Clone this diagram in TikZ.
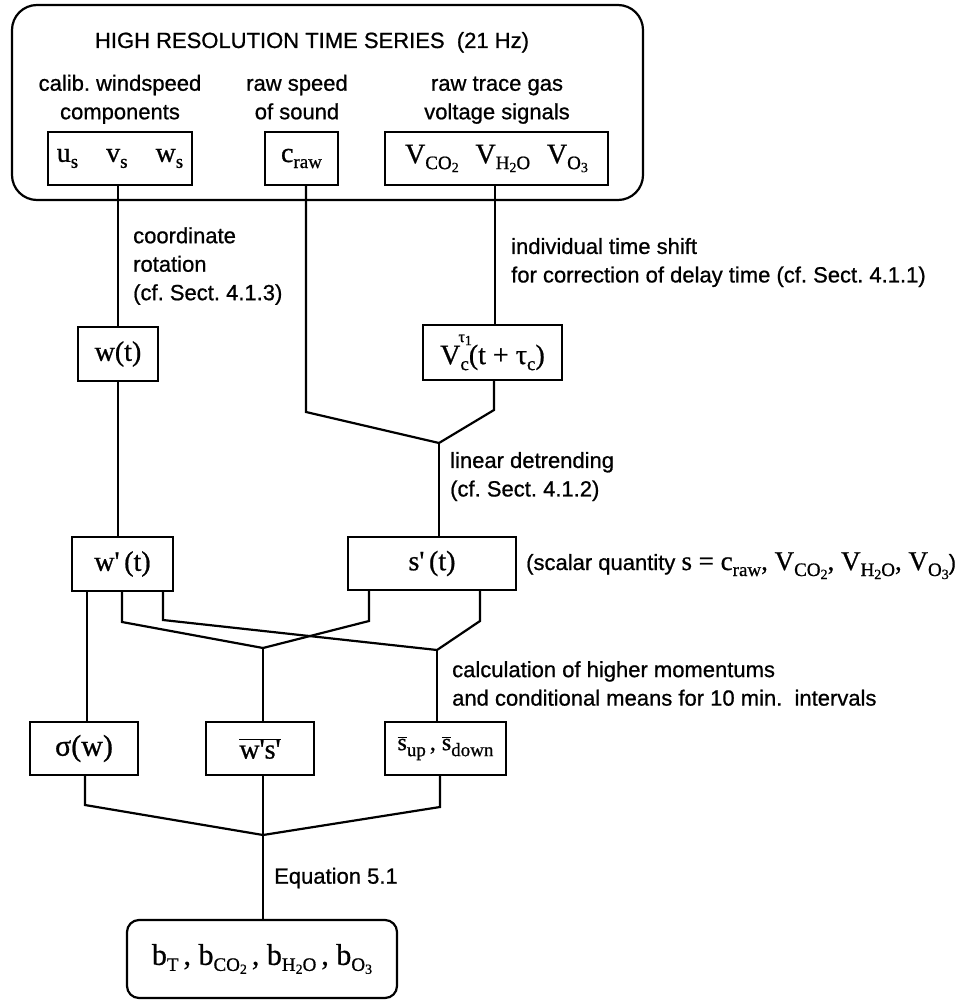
\documentclass[tikz,border=0pt]{standalone}
\usepackage{fontspec}
\setmainfont{Liberation Sans}[FakeBold=0.8]
\newfontfamily\ser{Liberation Serif}[FakeBold=0.8]
\usetikzlibrary{calc}
% subscripts for the serif formulas
\newcommand\lo[1]{\raisebox{-6pt}{\fontsize{19}{19}\selectfont #1}}
\newcommand\llo[1]{\raisebox{-3pt}{\fontsize{14}{14}\selectfont #1}}
\newcommand\pr{\char"0027\relax}
\tikzset{
  box/.style={draw, line width=2.2pt, inner sep=0pt, font=\ser\fontsize{28}{30}\selectfont},
  lbl/.style={font=\fontsize{22}{28.5}\selectfont\frenchspacing, inner sep=0pt},
  wire/.style={line width=2.2pt, line join=miter},
}
\begin{document}
\begin{tikzpicture}[x=1pt,y=-1pt]
\useasboundingbox (0,0) rectangle (963,1000);

% input block
\node[draw, line width=2.2pt, rounded corners=25, minimum width=631, minimum height=195, inner sep=0pt] (top) at (327.5,102.5) {};
\node[lbl, anchor=base] (title) at (312,48) {HIGH RESOLUTION TIME SERIES\ \ (21 Hz)};
\node[lbl, align=center] (calib) at (120,99.3) {\strut calib. windspeed\\\strut components};
\node[lbl, align=center] (sound) at (297,99.3) {\strut raw speed\\\strut of sound};
\node[lbl, align=center] (trace) at (497,99.3) {\strut raw trace gas\\\strut voltage signals};

\node[box, minimum width=144, minimum height=53] (us) at (120,158.5) {u\lo{s}\quad v\lo{s}\quad w\lo{s}};
\node[box, minimum width=73, minimum height=53] (craw) at (301.5,158.5) {c\lo{raw}};
\node[box, minimum width=223, minimum height=53] (V) at (496.5,158.5) {V\lo{CO\llo{2}}\hspace{0.6em}V\lo{H\llo{2}O}\hspace{0.6em}V\lo{O\llo{3}}};

% intermediate series
\node[box, minimum width=80, minimum height=54] (wt) at (118,354) {w(t)};
\node[box, minimum width=139, minimum height=55] (Vc) at (492.5,352.5) {V\rlap{\hspace{-2pt}\raisebox{22pt}{\fontsize{16}{16}\selectfont τ\llo{1}}}\lo{c}(t + τ\lo{c})};
\node[box, minimum width=101, minimum height=54] (wp) at (122.5,564) {w\pr\,(t)};
\node[box, minimum width=168, minimum height=53] (sp) at (432,563.5) {s\pr\,(t)};

% statistics
\node[box, minimum width=108, minimum height=53, font=\ser\fontsize{30}{30}\selectfont] (sig) at (84,748.5) {σ(w)};
\node[box, minimum width=108, minimum height=53] (wss) at (260,748.5) {$\overline{\hbox{w\pr s\pr}}$};
\node[box, minimum width=121, minimum height=53, font=\ser\fontsize{24}{28}\selectfont] (sup) at (445.5,748.5) {$\overline{\hbox{s}}$\lo{up}\,, $\overline{\hbox{s}}$\lo{down}};

% result
\node[box, rounded corners=12, minimum width=270, minimum height=78, font=\ser\fontsize{30}{30}\selectfont] (bot) at (262,959) {b\lo{T}\,, b\lo{CO\llo{2}}\,, b\lo{H\llo{2}O}\,, b\lo{O\llo{3}}};

% step labels
\node[lbl, align=left, anchor=west] (rot) at (133,266) {coordinate\\rotation\\(cf. Sect. 4.1.3)};
\node[lbl, align=left, anchor=west] (shift) at (511,262.5) {individual time shift\\for correction of delay time (cf. Sect. 4.1.1)};
\node[lbl, align=left, anchor=west] (detr) at (450,476.5) {linear detrending\\(cf. Sect. 4.1.2)};
\node[lbl, anchor=base west] (scal) at (526,570) {(scalar quantity {\ser\fontsize{27}{30}\selectfont s = c\lo{raw}, V\lo{CO\llo{2}}, V\lo{H\llo{2}O}, V\lo{O\llo{3}}})};
\node[lbl, align=left, anchor=west] (calc) at (452,683.5) {calculation of higher momentums\\and conditional means for 10 min.\ \ intervals};
\node[lbl, anchor=west] (eq) at (274,878) {Equation 5.1};

% connector bends and junctions
\coordinate (vl) at (495,0);
\coordinate (c1) at (306,412);
\coordinate (c2) at (494,410);
\coordinate (J1) at (439,443);
\coordinate (a0) at (87,0);
\coordinate (a1) at (122,622);
\coordinate (a2) at (163,620);
\coordinate (a3) at (369,621);
\coordinate (a4) at (480,621);
\coordinate (J2) at (263,648);
\coordinate (J3) at (437,650);
\coordinate (a5) at (85,805);
\coordinate (a6) at (440,807);
\coordinate (J4) at (263,835);

\draw[wire] (wt.north |- us.south) -- (wt.north);
\draw[wire] (wt.south) -- (wt.south |- wp.north);
\draw[wire] (V.south -| vl) -- (Vc.north -| vl);
\draw[wire] (craw.south -| c1) -- (c1) -- (J1);
\draw[wire] (Vc.south -| c2) -- (c2) -- (J1);
\draw[wire] (J1) -- (J1 |- sp.north);

\draw[wire] (wp.south -| a0) -- (sig.north -| a0);
\draw[wire] (wp.south -| a1) -- (a1) -- (J2);
\draw[wire] (wp.south -| a2) -- (a2) -- (J3);
\draw[wire] (sp.south -| a3) -- (a3) -- (J2);
\draw[wire] (sp.south -| a4) -- (a4) -- (J3);
\draw[wire] (J2) -- (J2 |- wss.north);
\draw[wire] (J3) -- (J3 |- sup.north);

\draw[wire] (sig.south -| a5) -- (a5) -- (J4);
\draw[wire] (sup.south -| a6) -- (a6) -- (J4);
\draw[wire] (wss.south -| J4) -- (J4) -- (J4 |- bot.north);
\end{tikzpicture}
\end{document}
